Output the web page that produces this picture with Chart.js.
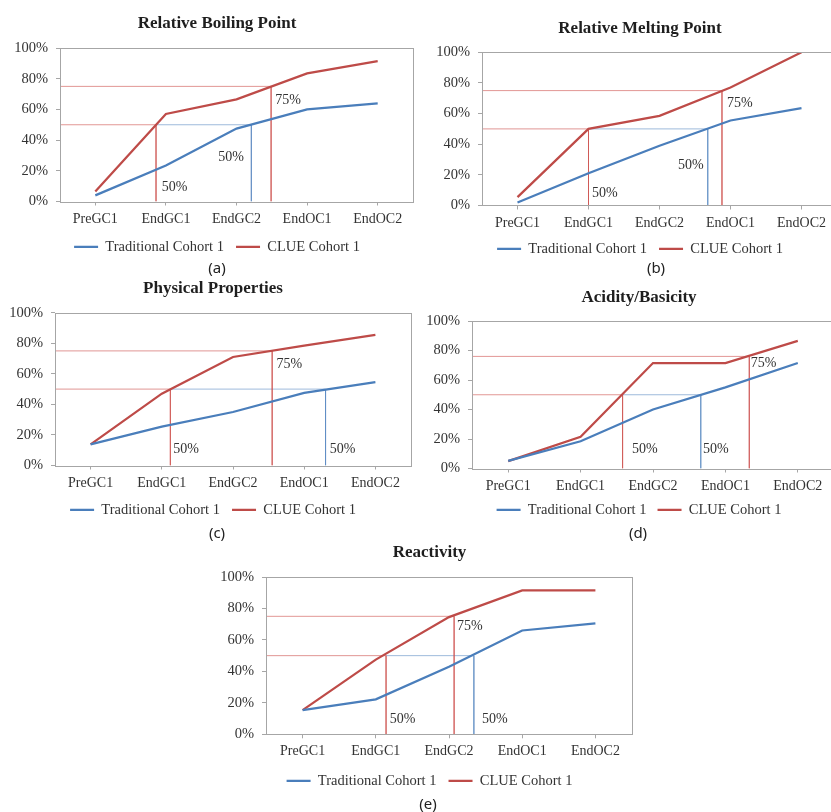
<!DOCTYPE html>
<html>
<head>
<meta charset="utf-8">
<title>Cohort comparison charts</title>
<script src="https://cdn.jsdelivr.net/npm/chart.js@4.4.1/dist/chart.umd.min.js"></script>
<style>
    html, body { margin: 0; padding: 0; background: #fff; }
    body { width: 831px; height: 812px; overflow: hidden; position: relative; }
    .panel { position: absolute; }
    .caption {
        position: absolute; width: 40px; text-align: center; line-height: 20px;
        font: 15px 'Noto Sans', 'Liberation Sans', sans-serif; color: #222;
    }
</style>
</head>
<body>
<div class="panel" id="panelA"><canvas id="chartA"></canvas></div>
<div class="panel" id="panelB"><canvas id="chartB"></canvas></div>
<div class="panel" id="panelC"><canvas id="chartC"></canvas></div>
<div class="panel" id="panelD"><canvas id="chartD"></canvas></div>
<div class="panel" id="panelE"><canvas id="chartE"></canvas></div>
<div class="caption" style="left:197px; top:257px;">(a)</div>
<div class="caption" style="left:636px; top:257px;">(b)</div>
<div class="caption" style="left:197px; top:522px;">(c)</div>
<div class="caption" style="left:618px; top:522px;">(d)</div>
<div class="caption" style="left:408px; top:793px;">(e)</div>

<script>
// ==================== DATA ====================
const categories = ['PreGC1', 'EndGC1', 'EndGC2', 'EndOC1', 'EndOC2'];
const yTicks = [0, 20, 40, 60, 80, 100];
const seriesNames = ['Traditional Cohort 1', 'CLUE Cohort 1'];
const noteTexts = ['50%', '50%', '75%'];

// guide crossings are category positions: [red 50%, blue 50%, red 75%]
// note anchors are [category position, value] for the 50% / 50% / 75% labels

// (a) Relative Boiling Point
const boilingTraditional = [4, 23.5, 47.5, 60, 64];
const boilingClue = [6.5, 57, 66.5, 83.5, 91.5];
const boilingCross = [0.86, 2.21, 2.49];
const boilingLevels = [50, 75];
const boilingNotes = [[0.94, 9], [1.74, 29], [2.55, 66]];

// (b) Relative Melting Point
const meltingTraditional = [2, 21, 39, 55.5, 63.5];
const meltingClue = [5.5, 50, 58.5, 77, 100];
const meltingCross = [1.0, 2.68, 2.88];
const meltingLevels = [50, 75];
const meltingNotes = [[1.05, 8], [2.26, 26], [2.95, 66.5]];

// (c) Physical Properties
const physicalTraditional = [13.8, 25.5, 35, 47.5, 54.5];
const physicalClue = [13.8, 47, 71, 78.5, 85.5];
const physicalCross = [1.12, 3.3, 2.55];
const physicalLevels = [50, 75];
const physicalNotes = [[1.16, 10.5], [3.36, 10.5], [2.61, 66]];

// (d) Acidity/Basicity
const acidityTraditional = [5.2, 18.5, 40, 55, 71.5];
const acidityClue = [5, 21.5, 71.5, 71.5, 86.5];
const acidityCross = [1.58, 2.66, 3.33];
const acidityLevels = [50, 76];
const acidityNotes = [[1.71, 13], [2.69, 13], [3.35, 71.5]];

// (e) Reactivity
const reactivityTraditional = [15.4, 22.2, 43, 66, 70.5];
const reactivityClue = [15.4, 47.5, 74.5, 91.5, 91.5];
const reactivityCross = [1.14, 2.34, 2.07];
const reactivityLevels = [50, 75];
const reactivityNotes = [[1.19, 9.5], [2.45, 9.5], [2.11, 68.5]];

// ==================== STYLE ====================
const serif = "'Liberation Serif', 'Times New Roman', serif";
const blue = '#4a7ebb';
const red = '#be4b48';
const blueGuide = 'rgba(79, 129, 189, 0.55)';
const redGuide = 'rgba(205, 80, 77, 0.6)';
const axisGray = '#a6a6a6';
const xMin = -0.5;
const xMax = categories.length - 0.5;

Chart.defaults.font.family = serif;
Chart.defaults.color = '#333';

// gray box round the plot area, like the spreadsheet charts
const plotFrame = {
    id: 'plotFrame',
    afterDraw(chart) {
        const a = chart.chartArea;
        const ctx = chart.ctx;
        ctx.save();
        ctx.strokeStyle = axisGray;
        ctx.lineWidth = 1;
        ctx.strokeRect(Math.round(a.left) + 0.5, Math.round(a.top) + 0.5,
            Math.round(a.right - a.left), Math.round(a.bottom - a.top));
        ctx.restore();
    }
};

// the "50%" / "75%" labels beside the guide lines
const guideNotes = {
    id: 'guideNotes',
    afterDatasetsDraw(chart, args, opts) {
        const { ctx, scales: { x, y } } = chart;
        ctx.save();
        ctx.font = '14px ' + serif;
        ctx.fillStyle = '#333';
        ctx.textAlign = 'left';
        ctx.textBaseline = 'middle';
        (opts.items || []).forEach((n, i) => {
            ctx.fillText(noteTexts[i], x.getPixelForValue(n[0]), y.getPixelForValue(n[1]));
        });
        ctx.restore();
    }
};

function toPoints(values) {
    return values.map((v, i) => ({ x: i, y: v }));
}

function guideSets(cross, levels) {
    const [r50, b50, r75] = cross;
    const [lo, hi] = levels;
    const base = { borderWidth: 1, pointRadius: 0, fill: false };
    return [
        { ...base, data: [{ x: xMin, y: hi }, { x: r75, y: hi }, { x: r75, y: 0 }], borderColor: redGuide },
        { ...base, data: [{ x: xMin, y: lo }, { x: r50, y: lo }, { x: r50, y: 0 }], borderColor: redGuide },
        { ...base, data: [{ x: r50, y: lo }, { x: b50, y: lo }, { x: b50, y: 0 }], borderColor: blueGuide }
    ];
}

function buildChart(id, spec) {
    const L = spec.layout;
    const canvas = document.getElementById(id);
    const panel = canvas.parentNode;
    panel.style.left = L.x + 'px';
    panel.style.top = L.y + 'px';
    canvas.width = L.w;
    canvas.height = L.h;

    return new Chart(canvas, {
        type: 'line',
        data: {
            datasets: [
                {
                    label: seriesNames[0],
                    data: toPoints(spec.traditional),
                    borderColor: blue,
                    backgroundColor: blue,
                    borderWidth: 2.25,
                    pointRadius: 0,
                    tension: 0
                },
                {
                    label: seriesNames[1],
                    data: toPoints(spec.clue),
                    borderColor: red,
                    backgroundColor: red,
                    borderWidth: 2.25,
                    pointRadius: 0,
                    tension: 0
                },
                ...guideSets(spec.cross, spec.levels)
            ]
        },
        options: {
            responsive: false,
            animation: false,
            events: [],
            layout: { padding: { left: L.padL, right: 0, top: 0, bottom: 0 } },
            plugins: {
                title: {
                    display: true,
                    text: spec.title,
                    color: '#1e1e1e',
                    font: { size: 17, weight: 'bold' },
                    padding: { top: L.tTop, bottom: L.tBot }
                },
                legend: {
                    position: 'bottom',
                    labels: {
                        usePointStyle: true,
                        pointStyle: 'line',
                        pointStyleWidth: 24,
                        padding: L.legendPad,
                        color: '#333',
                        font: { size: 14.5 },
                        filter: item => item.datasetIndex < 2
                    }
                },
                tooltip: { enabled: false },
                guideNotes: { items: spec.notes }
            },
            scales: {
                x: {
                    type: 'linear',
                    min: xMin,
                    max: xMax,
                    afterBuildTicks: axis => { axis.ticks = categories.map((c, i) => ({ value: i })); },
                    afterFit: axis => { axis.height = L.xH; },
                    ticks: {
                        callback: v => categories[v],
                        color: '#333',
                        font: { size: 14 },
                        padding: 5,
                        maxRotation: 0,
                        autoSkip: false
                    },
                    grid: { drawOnChartArea: false, tickLength: 4, color: axisGray },
                    border: { display: false }
                },
                y: {
                    min: 0,
                    max: 100,
                    afterBuildTicks: axis => { axis.ticks = yTicks.map(v => ({ value: v })); },
                    afterFit: axis => { axis.width = L.yW; },
                    ticks: {
                        callback: v => v + '%',
                        color: '#333',
                        font: { size: 14.5 },
                        padding: 8
                    },
                    grid: { drawOnChartArea: false, tickLength: 4, color: axisGray },
                    border: { display: false }
                },
                // blank strip on the right, keeps title and legend centred like the original
                yPad: {
                    type: 'linear',
                    position: 'right',
                    min: 0,
                    max: 100,
                    ticks: { display: false },
                    grid: { display: false },
                    border: { display: false },
                    afterFit: axis => { axis.width = L.rightW; }
                }
            }
        },
        plugins: [plotFrame, guideNotes]
    });
}

// ==================== CHARTS ====================
buildChart('chartA', {
    title: 'Relative Boiling Point',
    traditional: boilingTraditional, clue: boilingClue,
    cross: boilingCross, levels: boilingLevels, notes: boilingNotes,
    layout: { x: 0, y: 0, w: 423, h: 264, padL: 11, yW: 49, rightW: 10,
              tTop: 13, tBot: 14.6, xH: 26, legendPad: 12 }
});

buildChart('chartB', {
    title: 'Relative Melting Point',
    traditional: meltingTraditional, clue: meltingClue,
    cross: meltingCross, levels: meltingLevels, notes: meltingNotes,
    layout: { x: 425, y: 0, w: 420, h: 266, padL: 10, yW: 47, rightW: 8,
              tTop: 18, tBot: 13.9, xH: 24, legendPad: 12 }
});

buildChart('chartC', {
    title: 'Physical Properties',
    traditional: physicalTraditional, clue: physicalClue,
    cross: physicalCross, levels: physicalLevels, notes: physicalNotes,
    layout: { x: 0, y: 270, w: 426, h: 257, padL: 0, yW: 55, rightW: 15,
              tTop: 8.1, tBot: 14.2, xH: 25, legendPad: 12 }
});

buildChart('chartD', {
    title: 'Acidity/Basicity',
    traditional: acidityTraditional, clue: acidityClue,
    cross: acidityCross, levels: acidityLevels, notes: acidityNotes,
    layout: { x: 420, y: 270, w: 437, h: 257, padL: 1, yW: 51, rightW: 23,
              tTop: 17.1, tBot: 13.5, xH: 23, legendPad: 11 }
});

buildChart('chartE', {
    title: 'Reactivity',
    traditional: reactivityTraditional, clue: reactivityClue,
    cross: reactivityCross, levels: reactivityLevels, notes: reactivityNotes,
    layout: { x: 205, y: 540, w: 441, h: 258, padL: 8, yW: 53, rightW: 14,
              tTop: 2.5, tBot: 14.1, xH: 27.2, legendPad: 12 }
});
</script>
</body>
</html>
